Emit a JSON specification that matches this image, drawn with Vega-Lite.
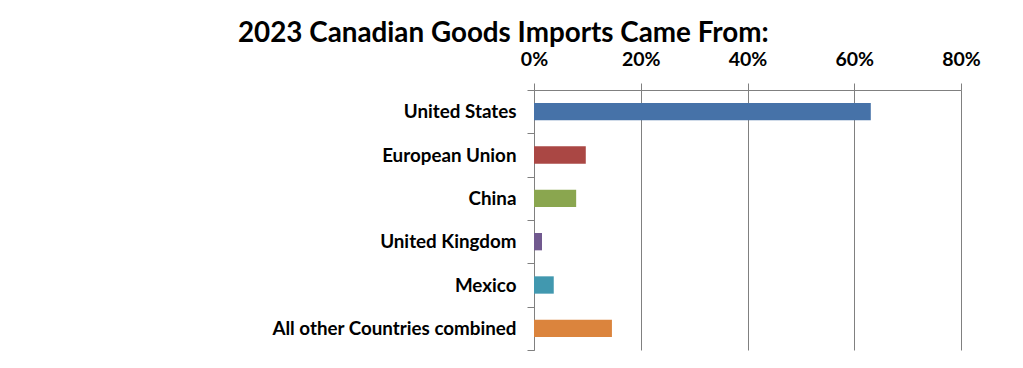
{
  "$schema": "https://vega.github.io/schema/vega-lite/v6.json",
  "autosize": {"type": "none"},
  "width": 427,
  "height": 260,
  "padding": {"left": 534, "top": 90, "right": 62, "bottom": 18},
  "background": "white",
  "title": {
    "text": "2023 Canadian Goods Imports Came From:",
    "anchor": "start",
    "frame": "group",
    "dx": -296,
    "dy": 3,
    "font": "Lato",
    "fontSize": 27.8,
    "fontWeight": "bold",
    "color": "#000000",
    "offset": 4
  },
  "data": {
    "values": [
      {"region": "United States", "share": 0.631},
      {"region": "European Union", "share": 0.097},
      {"region": "China", "share": 0.079},
      {"region": "United Kingdom", "share": 0.015},
      {"region": "Mexico", "share": 0.037},
      {"region": "All other Countries combined", "share": 0.146}
    ]
  },
  "mark": {"type": "bar", "height": {"band": 0.4}},
  "encoding": {
    "y": {
      "field": "region",
      "type": "nominal",
      "sort": null,
      "scale": {"paddingInner": 0, "paddingOuter": 0},
      "axis": {
        "title": null,
        "tickBand": "extent",
        "tickSize": 7,
        "tickColor": "#808080",
        "domainColor": "#808080",
        "labelPadding": 11,
        "labelFont": "Lato",
        "labelFontSize": 18.8,
        "labelFontWeight": "bold",
        "labelColor": "#000000",
        "labelLimit": 400,
        "grid": false
      }
    },
    "x": {
      "field": "share",
      "type": "quantitative",
      "scale": {"domain": [0, 0.8]},
      "axis": {
        "orient": "top",
        "title": null,
        "values": [0, 0.2, 0.4, 0.6, 0.8],
        "format": ".0%",
        "grid": true,
        "gridColor": "#808080",
        "gridWidth": 1,
        "gridOpacity": 1,
        "tickSize": 7,
        "tickColor": "#808080",
        "domainColor": "#808080",
        "labelPadding": 14,
        "labelFont": "Lato",
        "labelFontSize": 19.5,
        "labelFontWeight": "bold",
        "labelColor": "#000000",
        "labelFlush": false
      }
    },
    "color": {
      "field": "region",
      "type": "nominal",
      "sort": null,
      "legend": null,
      "scale": {
        "domain": ["United States", "European Union", "China", "United Kingdom", "Mexico", "All other Countries combined"],
        "range": ["#4672A8", "#AA4744", "#8AA64F", "#71598F", "#4198AF", "#DB843D"]
      }
    }
  },
  "config": {"view": {"stroke": null}}
}
